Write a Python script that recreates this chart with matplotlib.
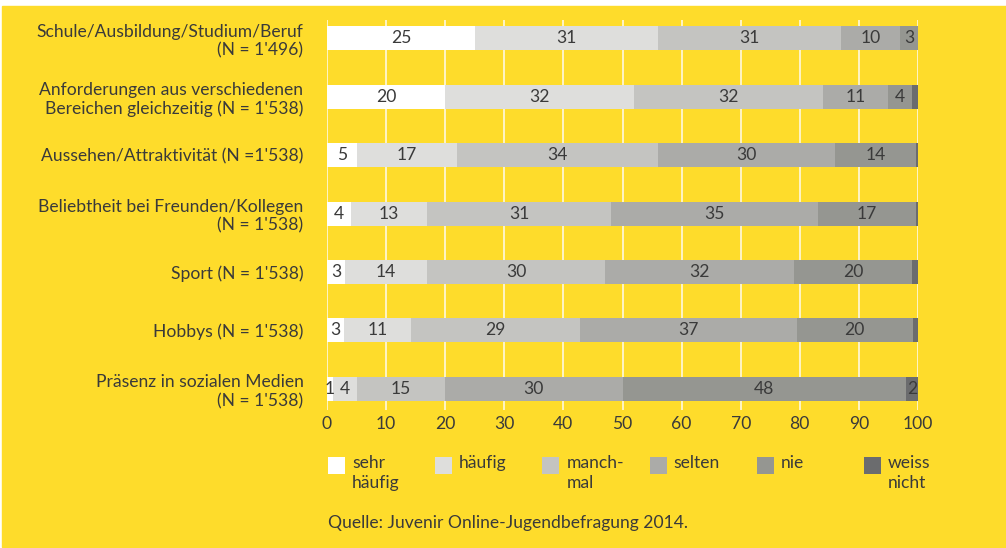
import matplotlib
matplotlib.use('Agg')
import matplotlib.pyplot as plt
from matplotlib.patches import Rectangle
import numpy as np

plt.rcParams['font.family'] = ['Lato', 'DejaVu Sans']

categories = [
    "Schule/Ausbildung/Studium/Beruf\n(N = 1'496)",
    "Anforderungen aus verschiedenen\nBereichen gleichzeitig (N = 1'538)",
    "Aussehen/Attraktivität (N =1'538)",
    "Beliebtheit bei Freunden/Kollegen\n(N = 1'538)",
    "Sport (N = 1'538)",
    "Hobbys (N = 1'538)",
    "Präsenz in sozialen Medien\n(N = 1'538)",
]
legend_labels = ["sehr\nhäufig", "häufig", "manch-\nmal", "selten", "nie", "weiss\nnicht"]

# percentages (labels are the rounded values)
sehr_haeufig = [25, 20, 5, 4, 3, 2.9, 1]
haeufig = [31, 32, 17, 13, 14, 11.3, 4]
manchmal = [31, 32, 34, 31, 30, 28.6, 15]
selten = [10, 11, 30, 35, 32, 36.7, 30]
nie = [3, 4, 13.7, 16.7, 20, 19.6, 48]
weiss_nicht = [0, 1, 0.3, 0.3, 1, 0.9, 2]

series = [sehr_haeufig, haeufig, manchmal, selten, nie, weiss_nicht]
colors = ['#ffffff', '#dededc', '#c4c4c1', '#ababa8', '#959691', '#6b6c6e']

yellow = '#fedc2b'
txt = '#3a3a3a'
fs = 12.6

fig = plt.figure(figsize=(10.06, 5.48), dpi=100, facecolor='white')
# yellow panel with thin white border at top/left
fig.add_artist(Rectangle((2 / 1006, 1 / 548), 1 - 2 / 1006, 1 - 7 / 548,
                         transform=fig.transFigure, color=yellow, zorder=-10))

ax = fig.add_axes([327 / 1006, 1 - 410 / 548, 591 / 1006, 390 / 548])
ax.set_facecolor('none')

y = np.arange(len(categories))
left = np.zeros(len(categories))
for k, (vals, c) in enumerate(zip(series, colors)):
    vals = np.array(vals, dtype=float)
    ax.barh(y, vals, left=left, height=0.41, color=c, zorder=2)
    for i, v in enumerate(vals):
        show = v >= 1 if k < len(series) - 1 else v >= 2
        if show:
            ax.text(left[i] + v / 2, y[i], f"{round(v)}", ha='center', va='center',
                    fontsize=fs, color=txt, zorder=3)
    left += vals

ax.set_xlim(0, 100)
ax.set_ylim(6.36, -0.31)
ax.set_xticks(range(0, 101, 10))
ax.set_yticks(y)
ax.set_yticklabels(categories, fontsize=fs, color=txt, linespacing=1.2)
ax.tick_params(axis='both', length=0, labelcolor=txt)
ax.tick_params(axis='x', labelsize=fs, pad=4)
ax.tick_params(axis='y', pad=17)
for lab in ax.get_yticklabels():
    lab.set_horizontalalignment('right')
ax.grid(axis='x', color='#fff8e0', lw=1.2, zorder=0)
ax.set_axisbelow(True)
for s in ax.spines.values():
    s.set_visible(False)

# legend
x0, step = 328, 107.2
for k, (lab, c) in enumerate(zip(legend_labels, colors)):
    xl = x0 + k * step
    fig.add_artist(Rectangle((xl / 1006, 1 - 474 / 548), 17 / 1006, 17 / 548,
                             transform=fig.transFigure, color=c, lw=0))
    fig.text((xl + 24) / 1006, 1 - 455 / 548, lab, ha='left', va='top',
             fontsize=fs, color=txt, linespacing=1.3)

fig.text(328 / 1006, 1 - 523 / 548, "Quelle: Juvenir Online-Jugendbefragung 2014.",
         ha='left', va='center', fontsize=fs, color=txt)

fig.savefig('out.png', dpi=100, facecolor=fig.get_facecolor())
